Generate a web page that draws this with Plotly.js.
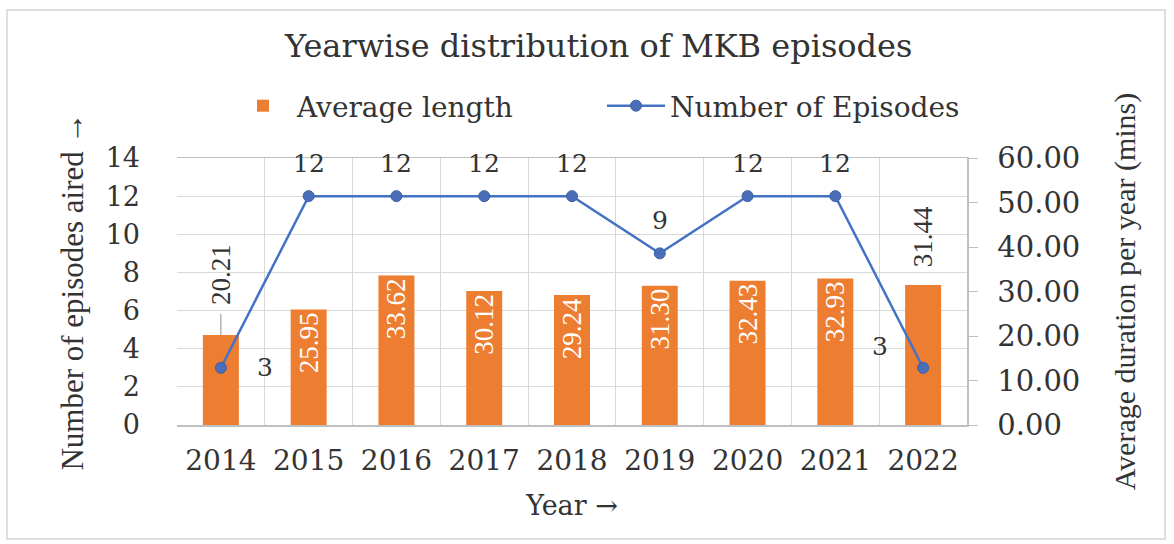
<!DOCTYPE html>
<html>
<head>
<meta charset="utf-8">
<script src="https://cdn.plot.ly/plotly-3.0.1.min.js"></script>
<style>
  html, body { margin: 0; padding: 0; background: #fff; }
  #wrap { position: relative; width: 1174px; height: 544px; }
  #chart { position: absolute; left: 0; top: 0; width: 1174px; height: 544px; }
  #frame { position: absolute; left: 6px; top: 9px; width: 1160px; height: 531px;
           border: 2px solid #dedede; box-sizing: border-box; pointer-events: none; }
</style>
</head>
<body>
<div id="wrap">
  <div id="chart"></div>
  <div id="frame"></div>
</div>
<script>
const years = ['2014', '2015', '2016', '2017', '2018', '2019', '2020', '2021', '2022'];
const avgLength = [20.21, 25.95, 33.62, 30.12, 29.24, 31.30, 32.43, 32.93, 31.44];
const episodes = [3, 12, 12, 12, 12, 9, 12, 12, 3];

const WIDE = 'DejaVu Serif, serif';              // horizontal texts (reference is stretched wide)
const NARROW = 'Liberation Serif, Times New Roman, serif'; // rotated texts
const TXT = '#333333';
const ORANGE = '#ED7D31';
const BLUE = '#4472C4';
const GRID = '#d9d9d9';
const AXIS = '#bfbfbf';

const barTextPos = years.map((y, i) => (i === 0 || i === years.length - 1) ? 'none' : 'inside');

const barTrace = {
  type: 'bar',
  name: 'Average length',
  x: years,
  y: avgLength,
  yaxis: 'y',
  marker: { color: ORANGE },
  text: avgLength.map(v => v.toFixed(2)),
  textposition: barTextPos,
  textangle: -90,
  insidetextanchor: 'end',
  constraintext: 'none',
  insidetextfont: { family: NARROW, size: 27, color: '#ffffff' },
  hoverinfo: 'skip'
};

const lineTrace = {
  type: 'scatter',
  mode: 'lines+markers',
  name: 'Number of Episodes',
  x: years,
  y: episodes,
  yaxis: 'y2',
  line: { color: BLUE, width: 2.5 },
  marker: { color: '#4a6fb8', size: 11, line: { color: '#3b5ea6', width: 1 } },
  hoverinfo: 'skip'
};

const annotations = [];
// line point labels (x given as category index)
episodes.forEach((v, i) => {
  let xs = 0, ys = 33;
  if (i === 0) { xs = 44; ys = 0; }
  if (i === episodes.length - 1) { xs = -43; ys = 21; }
  annotations.push({
    x: i, y: v, xref: 'x', yref: 'y2', text: String(v),
    showarrow: false, xshift: xs, yshift: ys,
    font: { family: WIDE, size: 25, color: TXT }
  });
});
// outside labels of first and last bars
annotations.push({
  x: 0, y: avgLength[0], xref: 'x', yref: 'y',
  text: avgLength[0].toFixed(2), textangle: -90,
  showarrow: true, arrowhead: 0, arrowwidth: 1, arrowcolor: '#8c8c8c',
  ax: 0, ay: -61, standoff: 0, startstandoff: 8,
  font: { family: NARROW, size: 27, color: TXT }
});
annotations.push({
  x: years.length - 1, y: avgLength[years.length - 1], xref: 'x', yref: 'y',
  text: avgLength[years.length - 1].toFixed(2), textangle: -90,
  showarrow: false, yshift: 48,
  font: { family: NARROW, size: 27, color: TXT }
});

const layout = {
  width: 1174,
  height: 544,
  margin: { l: 177, r: 207, t: 158, b: 119 },
  paper_bgcolor: '#ffffff',
  plot_bgcolor: '#ffffff',
  font: { family: WIDE, color: TXT, size: 26 },
  bargap: 0.59,
  showlegend: true,
  title: {
    text: 'Yearwise distribution of MKB episodes',
    font: { family: WIDE, size: 32, color: TXT },
    x: 0.51, xanchor: 'center', xref: 'container',
    y: 1 - 46 / 544, yanchor: 'middle', yref: 'container'
  },
  legend: {
    orientation: 'h',
    x: (229 - 177) / 790, xanchor: 'left', xref: 'paper',
    y: 1 - 106 / 544, yanchor: 'middle', yref: 'container',
    font: { family: WIDE, size: 28, color: TXT },
    itemwidth: 58,
    entrywidth: 300,
    entrywidthmode: 'pixels',
    bgcolor: 'rgba(0,0,0,0)'
  },
  xaxis: {
    type: 'category',
    range: [-0.5, years.length - 0.5],
    autorange: false,
    tickson: 'boundaries',
    showgrid: true,
    gridcolor: GRID,
    gridwidth: 1,
    showline: true,
    mirror: true,
    linecolor: AXIS,
    linewidth: 1.5,
    ticks: '',
    ticklabelstandoff: 10,
    tickfont: { family: WIDE, size: 28, color: TXT },
    title: { text: 'Year →', font: { family: WIDE, size: 27, color: TXT }, standoff: 20 }
  },
  // main (bottom) y axis: average length, shown on the right
  yaxis: {
    side: 'right',
    range: [0, 60],
    autorange: false,
    dtick: 10,
    tickformat: '.2f',
    showgrid: false,
    zeroline: false,
    showline: true,
    linecolor: AXIS,
    linewidth: 1.5,
    ticks: 'outside',
    ticklen: 9,
    tickcolor: AXIS,
    ticklabelstandoff: 14,
    tickfont: { family: WIDE, size: 29, color: TXT },
    minor: { tick0: 0, dtick: 60 / 7, showgrid: true, gridcolor: GRID, gridwidth: 1, ticks: '' },
    title: { text: 'Average duration per year (mins)', font: { family: NARROW, size: 30, color: TXT }, standoff: 34 }
  },
  // overlay y axis: number of episodes, shown on the left
  yaxis2: {
    overlaying: 'y',
    side: 'left',
    range: [0, 14],
    autorange: false,
    dtick: 2,
    showgrid: false,
    zeroline: false,
    showline: false,
    ticks: '',
    ticklabelstandoff: 36,
    tickfont: { family: WIDE, size: 27, color: TXT },
    title: { text: 'Number of episodes aired →', font: { family: NARROW, size: 31, color: TXT }, standoff: 12 }
  },
  annotations: annotations
};

Plotly.newPlot('chart', [barTrace, lineTrace], layout, { displayModeBar: false, staticPlot: true });
</script>
</body>
</html>
